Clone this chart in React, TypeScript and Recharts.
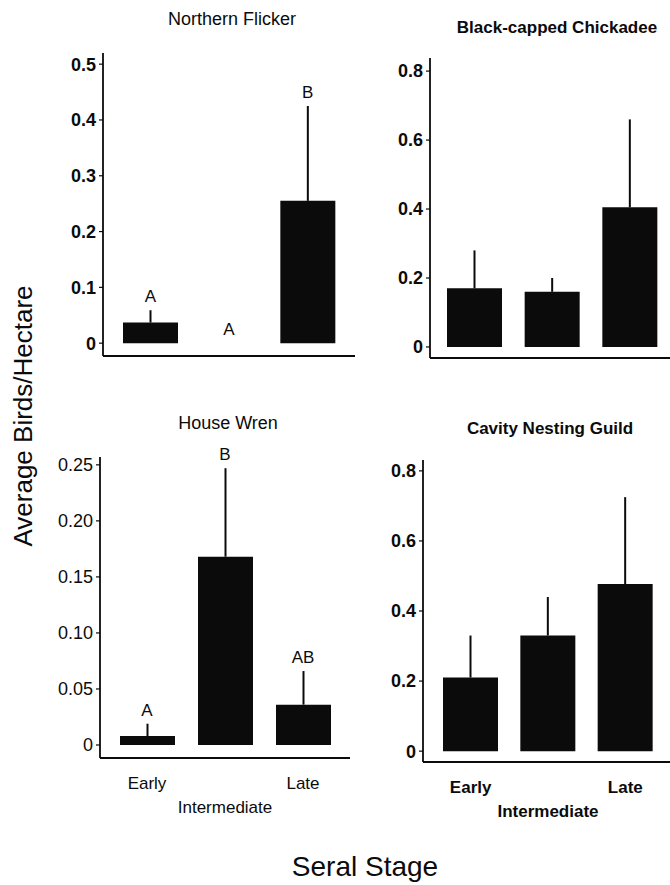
import React from "react";
import { ComposedChart, Bar, Line, XAxis, YAxis, ErrorBar, LabelList } from "recharts";

const stages = ["Early", "Intermediate", "Late"];

// Northern Flicker
const flickerMean = [0.037, 0, 0.255];
const flickerErr = [0.022, 0, 0.17];
const flickerLetters = ["A", "A", "B"];

// Black-capped Chickadee
const chickadeeMean = [0.17, 0.16, 0.405];
const chickadeeErr = [0.11, 0.04, 0.255];

// House Wren
const wrenMean = [0.008, 0.168, 0.036];
const wrenErr = [0.011, 0.079, 0.03];
const wrenLetters = ["A", "B", "AB"];

// Cavity Nesting Guild
const guildMean = [0.21, 0.33, 0.477];
const guildErr = [0.12, 0.11, 0.248];

const flickerTicks = [0, 0.1, 0.2, 0.3, 0.4, 0.5];
const wrenTicks = [0, 0.05, 0.1, 0.15, 0.2, 0.25];
const fifthTicks = [0, 0.2, 0.4, 0.6, 0.8];

const FONT = "'Liberation Sans', Arial, Helvetica, sans-serif";
const INK = "#0b0b0b";

type Box = { left: number; top: number; width: number; height: number };

type PanelProps = {
  box: Box;
  yAxisWidth: number;
  marginTop: number;
  marginRight: number;
  xAxisHeight: number;
  pad: { left: number; right: number };
  means: number[];
  errs: number[];
  letters?: string[];
  ticks: number[];
  domain: [number, number];
  digits: number;
  bold: boolean;
  showStages: boolean;
};

const StageTick = (props: any) => {
  const { x, y, payload, bold } = props;
  const dy = payload.value === "Intermediate" ? 49 : 25;
  return (
    <text x={x} y={y + dy} textAnchor="middle" dominantBaseline="central"
      fill={INK} fontSize={17} fontWeight={bold ? 700 : 400} fontFamily={FONT}>
      {payload.value}
    </text>
  );
};

const Panel = ({ box, yAxisWidth, marginTop, marginRight, xAxisHeight, pad, means, errs, letters, ticks, domain, digits, bold, showStages }: PanelProps) => {
  const data = stages.map((s, i) => ({
    stage: s,
    mean: means[i],
    err: [0, errs[i]],
    top: means[i] + errs[i],
    letter: letters ? letters[i] : "",
  }));
  const fmt = (v: number) => (v === 0 ? "0" : v.toFixed(digits));
  return (
    <div style={{ position: "absolute", left: box.left, top: box.top }}>
      <ComposedChart width={box.width} height={box.height} data={data}
        margin={{ top: marginTop, right: marginRight, left: 0, bottom: 0 }}>
        <XAxis dataKey="stage" height={xAxisHeight} padding={pad}
          axisLine={{ stroke: INK, strokeWidth: 1.8 }} tickLine={false}
          tickSize={0} tickMargin={0} interval={0}
          tick={showStages ? <StageTick bold={bold} /> : false} />
        <YAxis type="number" width={yAxisWidth} domain={domain} ticks={ticks}
          allowDataOverflow tickFormatter={fmt} tickSize={4} tickMargin={3}
          axisLine={{ stroke: INK, strokeWidth: 1.8 }} tickLine={{ stroke: INK, strokeWidth: 1.2 }}
          tick={{ fill: INK, fontSize: 18, fontWeight: bold ? 700 : 400, fontFamily: FONT }} />
        <Bar dataKey="mean" fill={INK} barSize={55} isAnimationActive={false}>
          <ErrorBar dataKey="err" width={0} stroke={INK} strokeWidth={2} />
        </Bar>
        {letters && (
          <Line dataKey="top" stroke="none" dot={false} activeDot={false} legendType="none" isAnimationActive={false}>
            <LabelList dataKey="letter" position="top" offset={8} fill={INK}
              fontSize={17} fontWeight={400} fontFamily={FONT} />
          </Line>
        )}
      </ComposedChart>
    </div>
  );
};

const Txt = ({ x, y, size, weight = 400, rotate = 0, children }: any) => (
  <div style={{
    position: "absolute", left: x, top: y, whiteSpace: "nowrap",
    transform: `translate(-50%, -50%) rotate(${rotate}deg)`,
    fontSize: size, fontWeight: weight, fontFamily: FONT, color: INK, lineHeight: 1,
  }}>{children}</div>
);

export default function App() {
  return (
    <div style={{ position: "absolute", left: 0, top: 0, width: 670, height: 885, background: "#fff", overflow: "hidden" }}>
      <Panel box={{ left: 0, top: 0, width: 380, height: 380 }} yAxisWidth={103} marginTop={53} marginRight={25}
        xAxisHeight={24} pad={{ left: 8, right: 8 }} means={flickerMean} errs={flickerErr} letters={flickerLetters}
        ticks={flickerTicks} domain={[-0.023, 0.52]} digits={1} bold showStages={false} />
      <Panel box={{ left: 380, top: 0, width: 290, height: 380 }} yAxisWidth={50} marginTop={58} marginRight={0}
        xAxisHeight={22} pad={{ left: 6, right: 1 }} means={chickadeeMean} errs={chickadeeErr}
        ticks={fifthTicks} domain={[-0.032, 0.838]} digits={1} bold showStages={false} />
      <Panel box={{ left: 0, top: 400, width: 380, height: 440 }} yAxisWidth={100} marginTop={57} marginRight={30}
        xAxisHeight={82} pad={{ left: 8, right: 8 }} means={wrenMean} errs={wrenErr} letters={wrenLetters}
        ticks={wrenTicks} domain={[-0.0116, 0.257]} digits={2} bold={false} showStages />
      <Panel box={{ left: 380, top: 400, width: 290, height: 440 }} yAxisWidth={43} marginTop={60} marginRight={0}
        xAxisHeight={78} pad={{ left: 9, right: 6 }} means={guildMean} errs={guildErr}
        ticks={fifthTicks} domain={[-0.031, 0.831]} digits={1} bold showStages />

      <Txt x={232} y={19} size={18}>Northern Flicker</Txt>
      <Txt x={557} y={27} size={17} weight={700}>Black-capped Chickadee</Txt>
      <Txt x={228} y={423} size={18}>House Wren</Txt>
      <Txt x={550} y={428} size={17} weight={700}>Cavity Nesting Guild</Txt>

      <Txt x={23} y={416} size={26} rotate={-90}>Average Birds/Hectare</Txt>
      <Txt x={365} y={867} size={28}>Seral Stage</Txt>
    </div>
  );
}
